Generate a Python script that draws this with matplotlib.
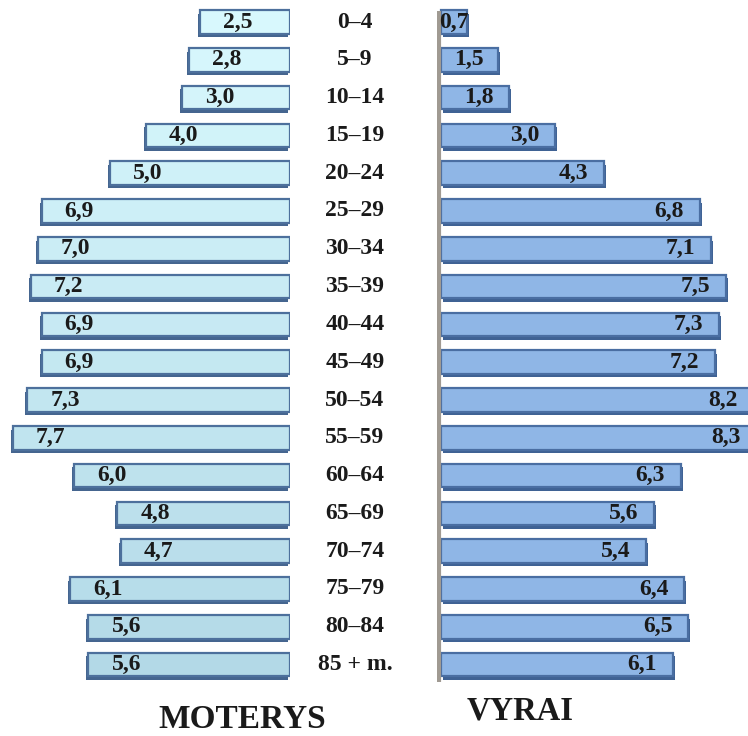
import matplotlib
matplotlib.use("Agg")
import matplotlib.pyplot as plt
import matplotlib.patheffects as pe
import numpy as np

ages = ["0–4", "5–9", "10–14", "15–19", "20–24", "25–29", "30–34", "35–39",
        "40–44", "45–49", "50–54", "55–59", "60–64", "65–69", "70–74",
        "75–79", "80–84", "85 + m."]
women = [2.5, 2.8, 3.0, 4.0, 5.0, 6.9, 7.0, 7.2, 6.9, 6.9, 7.3, 7.7, 6.0, 4.8, 4.7, 6.1, 5.6, 5.6]
men = [0.7, 1.5, 1.8, 3.0, 4.3, 6.8, 7.1, 7.5, 7.3, 7.2, 8.2, 8.3, 6.3, 5.6, 5.4, 6.4, 6.5, 6.1]
title_left = "MOTERYS"
title_right = "VYRAI"

def fmt(v):
    return f"{v:.1f}".replace(".", ",")

W, H = 748, 736
fig = plt.figure(figsize=(W / 100, H / 100), dpi=100)
fig.patch.set_facecolor("white")

serif = ["Liberation Serif", "DejaVu Serif"]
txtcol = "#1a1a1a"
n = len(ages)
y = np.arange(n)
ylim = ((700 - 22) / 37.8, -22 / 37.8)
ax_bottom = (H - 700) / H
ax_height = 700 / H

# left panel (women)
axL = fig.add_axes([0, ax_bottom, 290 / W, ax_height])
axL.set_xlim(290 / 36.0, 0)
axL.set_ylim(*ylim)
axL.axis("off")
c_top = np.array(matplotlib.colors.to_rgb("#d8f8fd"))
c_bot = np.array(matplotlib.colors.to_rgb("#b3d9e7"))
colsL = [tuple(c_top + (c_bot - c_top) * i / (n - 1)) for i in range(n)]
barsL = axL.barh(y, women, height=0.62, color=colsL, edgecolor="#4d709c", linewidth=1.6)
for b in barsL:
    b.set_path_effects([pe.SimplePatchShadow(offset=(-1.5, -2.5), shadow_rgbFace="#45658f", alpha=1.0), pe.Normal()])
for yi, v in zip(y, women):
    axL.text(v - 1.05, yi, fmt(v), ha="center", va="center", fontsize=17,
             fontweight="bold", family=serif, color=txtcol)

# right panel (men)
scaleR = 38.1
x0 = 3.5 / scaleR
axR = fig.add_axes([437 / W, ax_bottom, 311 / W, ax_height])
axR.set_xlim(-x0, 311 / scaleR - x0)
axR.set_ylim(*ylim)
axR.axis("off")
axR.plot([-x0 / 2, -x0 / 2], [-0.3, 17.45], color="#a09a92", linewidth=3, solid_capstyle="butt")
barsR = axR.barh(y, men, height=0.62, color="#8fb6e6", edgecolor="#4a6ea2", linewidth=1.6)
for b in barsR:
    b.set_path_effects([pe.SimplePatchShadow(offset=(1.5, -2.5), shadow_rgbFace="#3f6294", alpha=1.0), pe.Normal()])
for yi, v in zip(y, men):
    axR.text(max(v - 0.8, v / 2), yi, fmt(v), ha="center", va="center", fontsize=17,
             fontweight="bold", family=serif, color=txtcol)

# age labels
for yi, a in zip(y, ages):
    yp = 1 - (22 + 37.8 * yi) / H
    fig.text(355 / W, yp, a, ha="center", va="center", fontsize=17,
             fontweight="bold", family=serif, color=txtcol)

fig.text(242 / W, 1 - 720 / H, title_left, ha="center", va="center", fontsize=24,
         fontweight="bold", family=serif, color=txtcol)
fig.text(520 / W, 1 - 711 / H, title_right, ha="center", va="center", fontsize=23.5,
         fontweight="bold", family=serif, color=txtcol)

fig.savefig("out.png", dpi=100, facecolor="white")
